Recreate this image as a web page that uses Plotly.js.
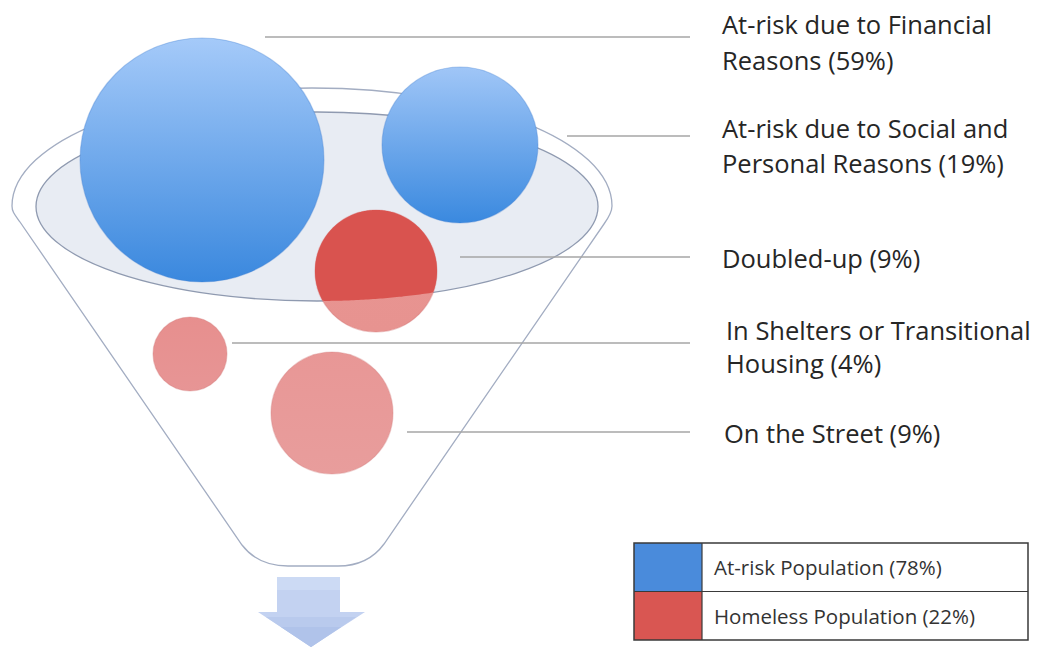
<!DOCTYPE html>
<html>
<head>
<meta charset="utf-8">
<script src="https://cdn.plot.ly/plotly-3.0.1.min.js"></script>
<style>html,body{margin:0;padding:0;background:#fff;}#chart{width:1047px;height:649px;}</style>
</head>
<body>
<div id="chart"></div>
<script>
// ---- data ----
const categories = [
  "At-risk due to Financial<br>Reasons",
  "At-risk due to Social and<br>Personal Reasons",
  "Doubled-up",
  "In Shelters or Transitional<br>Housing",
  "On the Street"
];
const values = [59, 19, 9, 4, 9];
const groups = ["atrisk", "atrisk", "homeless", "homeless", "homeless"];
const groupKeys = ["atrisk", "homeless"];
const groupNames = ["At-risk Population", "Homeless Population"];

// ---- layout / style constants (pixel space) ----
const W = 1047, H = 649;
const bubblePos = [
  {x: 202, y: 160, d: 244, top: "#a5caf9", bot: "#3a88de", line: "rgba(70,130,210,0.35)"},
  {x: 460, y: 145, d: 156, top: "#a0c6f7", bot: "#3a89df", line: "rgba(70,130,210,0.35)"},
  {x: 376, y: 271, d: 122, top: "#e99592", bot: "#e79390", line: "rgba(210,110,110,0.4)"},
  {x: 190, y: 354, d: 74,  top: "#e78f8e", bot: "#e79595", line: "rgba(210,120,120,0.35)"},
  {x: 332, y: 413, d: 122, top: "#e89796", bot: "#e89d9c", line: "rgba(210,120,120,0.35)"}
];
const darkRed = "#d9534f";
const leaders = [
  {y: 37,  x0: 265},
  {y: 136, x0: 567},
  {y: 257, x0: 460},
  {y: 343, x0: 232},
  {y: 432, x0: 407}
];
const leaderX1 = 690;
const labelPos = [
  {x: 720, ys: [24, 60]},
  {x: 720, ys: [128, 163]},
  {x: 720, ys: [258]},
  {x: 724, ys: [330, 363]},
  {x: 722, ys: [433]}
];
const innerEll = {x0: 36, x1: 598, y0: 112, y1: 301};
const legendBox = {x0: 634, x1: 1028, y0: 543, y1: 640, sw: 702, textX: 712};
const legendColors = ["#4a8bdb", "#d95652"];
const fontFam = "'Open Sans', Lato, sans-serif";

// ---- helpers ----
function f(v){ return v.toFixed(2); }

// outer funnel outline
const oc = {cx: 312, cy: 206, rx: 300, ry: 118};
const k = 0.5523;
const funnelPath =
  `M${oc.cx-oc.rx},${oc.cy} ` +
  `C${f(oc.cx-oc.rx)},${f(oc.cy-k*oc.ry)} ${f(oc.cx-k*oc.rx)},${f(oc.cy-oc.ry)} ${oc.cx},${oc.cy-oc.ry} ` +
  `C${f(oc.cx+k*oc.rx)},${f(oc.cy-oc.ry)} ${f(oc.cx+oc.rx)},${f(oc.cy-k*oc.ry)} ${oc.cx+oc.rx},${oc.cy} ` +
  `C612,212 609,217 604,224 L384,544 Q368,566 338,566 L288,566 Q258,566 242,545 L20,222 C15,215 12,212 12,206 Z`;

// dark part of the doubled-up bubble: intersection of circle with inner ellipse
const ecx = (innerEll.x0 + innerEll.x1) / 2, ecy = (innerEll.y0 + innerEll.y1) / 2;
const erx = (innerEll.x1 - innerEll.x0) / 2, ery = (innerEll.y1 - innerEll.y0) / 2;
const rb = bubblePos[2], rr = rb.d / 2;
let pts = [];
for (let i = 0; i < 720; i++) {
  const a = i / 720 * 2 * Math.PI;
  const px = rb.x + rr * Math.cos(a), py = rb.y + rr * Math.sin(a);
  if (((px-ecx)/erx)**2 + ((py-ecy)/ery)**2 <= 1) pts.push([px, py]);
  const qx = ecx + erx * Math.cos(a), qy = ecy + ery * Math.sin(a);
  if ((qx-rb.x)**2 + (qy-rb.y)**2 <= rr*rr) pts.push([qx, qy]);
}
pts.sort((p, q) => Math.atan2(p[1]-rb.y, p[0]-rb.x) - Math.atan2(q[1]-rb.y, q[0]-rb.x));
const interPath = "M" + pts.map(p => f(p[0]) + "," + f(p[1])).join(" L") + " Z";

// ---- shapes ----
const shapes = [];
shapes.push({type: "path", path: funnelPath, xref: "x", yref: "y", layer: "below",
  fillcolor: "rgba(255,255,255,0)", line: {color: "#a3adc2", width: 1.3}});
shapes.push({type: "circle", xref: "x", yref: "y", layer: "below",
  x0: innerEll.x0, x1: innerEll.x1, y0: innerEll.y0, y1: innerEll.y1,
  fillcolor: "#e8ecf3", line: {color: "#8f9ab0", width: 1.3}});
shapes.push({type: "path", path: interPath, xref: "x", yref: "y", layer: "above",
  fillcolor: darkRed, line: {width: 0}});
leaders.forEach(l => shapes.push({type: "line", xref: "x", yref: "y", layer: "below",
  x0: l.x0, x1: leaderX1, y0: l.y, y1: l.y, line: {color: "#a6a6a6", width: 1.4}}));
// arrow (banded to imitate a soft gradient)
const arrowBands = [
  {path: "M277,577 L340,577 L340,612 L365,612 L311,647 L258,612 L277,612 Z", c: "#c3d2f1"},
  {path: "M277,577 L340,577 L340,590 L277,590 Z", c: "#ccdaf4"},
  {path: "M266,617 L356,617 L311,647 Z", c: "#b9caed"},
  {path: "M281,627 L341,627 L311,647 Z", c: "#b0c3ea"}
];
arrowBands.forEach(b => shapes.push({type: "path", xref: "x", yref: "y", layer: "below",
  path: b.path, fillcolor: b.c, line: {width: 0}}));
// legend
const lb = legendBox, rowH = (lb.y1 - lb.y0) / groupKeys.length;
groupKeys.forEach((g, i) => {
  shapes.push({type: "rect", xref: "x", yref: "y", x0: lb.x0, x1: lb.sw,
    y0: lb.y0 + i*rowH, y1: lb.y0 + (i+1)*rowH, fillcolor: legendColors[i], line: {width: 0}});
});
shapes.push({type: "rect", xref: "x", yref: "y", x0: lb.x0, x1: lb.x1, y0: lb.y0, y1: lb.y1,
  fillcolor: "rgba(0,0,0,0)", line: {color: "#3a3a3a", width: 1.5}});
shapes.push({type: "line", xref: "x", yref: "y", x0: lb.x0, x1: lb.x1, y0: lb.y0 + rowH, y1: lb.y0 + rowH,
  line: {color: "#3a3a3a", width: 1.2}});
shapes.push({type: "line", xref: "x", yref: "y", x0: lb.sw, x1: lb.sw, y0: lb.y0, y1: lb.y1,
  line: {color: "#3a3a3a", width: 1.2}});

// ---- annotations ----
const annotations = [];
categories.forEach((c, i) => {
  const lines = (c + " (" + values[i] + "%)").split("<br>");
  lines.forEach((t, j) => annotations.push({x: labelPos[i].x, y: labelPos[i].ys[j], xref: "x", yref: "y",
    text: t, showarrow: false, xanchor: "left", yanchor: "middle",
    font: {family: fontFam, size: 25.5, color: "#262626"}}));
});
groupKeys.forEach((g, i) => {
  const tot = values.reduce((s, v, j) => s + (groups[j] === g ? v : 0), 0);
  annotations.push({x: lb.textX, y: lb.y0 + (i + 0.5)*rowH, xref: "x", yref: "y",
    text: groupNames[i] + " (" + tot + "%)", showarrow: false, xanchor: "left", yanchor: "middle",
    font: {family: fontFam, size: 20.5, color: "#333333"}});
});

// ---- bubbles ----
const trace = {
  type: "scatter", mode: "markers",
  x: bubblePos.map(b => b.x), y: bubblePos.map(b => b.y),
  text: categories, customdata: values,
  marker: {
    size: bubblePos.map(b => b.d), sizemode: "diameter",
    color: bubblePos.map(b => b.top),
    gradient: {type: "vertical", color: bubblePos.map(b => b.bot)},
    line: {color: bubblePos.map(b => b.line), width: 1.2},
    opacity: 1
  },
  hoverinfo: "skip", showlegend: false
};

const layout = {
  width: W, height: H,
  margin: {l: 0, r: 0, t: 0, b: 0},
  paper_bgcolor: "#ffffff", plot_bgcolor: "#ffffff",
  xaxis: {range: [0, W], visible: false, fixedrange: true},
  yaxis: {range: [H, 0], visible: false, fixedrange: true},
  showlegend: false,
  shapes: shapes, annotations: annotations
};

Plotly.newPlot("chart", [trace], layout, {staticPlot: true, displayModeBar: false});
</script>
</body>
</html>
